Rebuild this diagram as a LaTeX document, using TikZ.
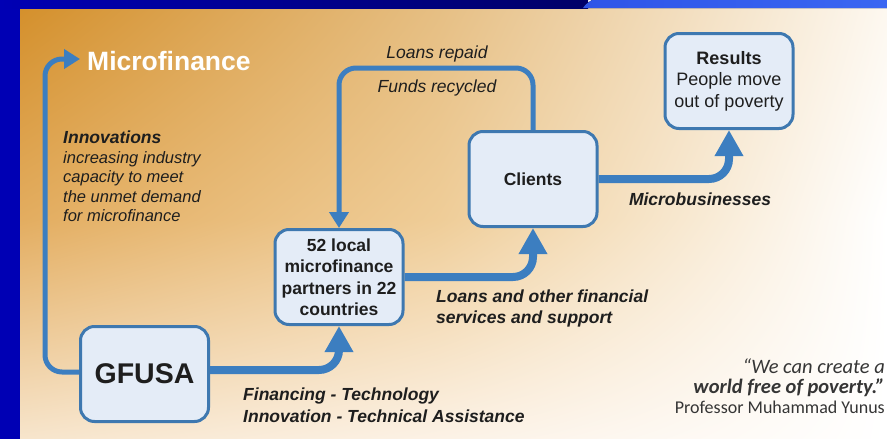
\documentclass[tikz,border=0pt]{standalone}
\usepackage{fontspec}
\setmainfont{Liberation Sans}
\newfontfamily\quotefont{Carlito}
\usetikzlibrary{arrows.meta,shadings}

\definecolor{navyL}{HTML}{0000B4}
\definecolor{navyD}{HTML}{000068}
\definecolor{brightblue}{HTML}{2F55E8}
\definecolor{brightblueR}{HTML}{3A66F2}
% background tones on a 3x3 grid
\definecolor{bgA}{HTML}{D4902C}
\definecolor{bgB}{HTML}{E6BF84}
\definecolor{bgC}{HTML}{FDF8F0}
\definecolor{bgD}{HTML}{E3AD60}
\definecolor{bgE}{HTML}{EFCD98}
\definecolor{bgF}{HTML}{FFFFFF}
\definecolor{bgG}{HTML}{F7E5CC}
\definecolor{bgH}{HTML}{FCF2E6}
\definecolor{bgI}{HTML}{FFFFFF}
\definecolor{boxfill}{HTML}{E4ECF7}
\definecolor{boxline}{HTML}{3E78B0}
\definecolor{flow}{HTML}{3C7EC0}
\definecolor{ink}{HTML}{1E1E1E}

\begin{document}
\begin{tikzpicture}[x=1pt,y=-1pt,
  stepbox/.style={draw=boxline, line width=3pt, fill=boxfill,
    rounded corners=14pt, minimum width=128pt, minimum height=95pt,
    align=center, text=ink, inner sep=2pt,
    font=\bfseries\fontsize{17.5}{21.5}\selectfont},
  bigflow/.style={draw=flow, line width=8pt, rounded corners=20pt,
    -{Triangle[width=27pt,length=26pt]}},
  smallflow/.style={draw=flow, line width=5pt, rounded corners=17pt,
    -{Triangle[width=19pt,length=16pt]}},
  label/.style={inner sep=0pt, text=ink},
  boldlabel/.style={label, font=\bfseries\itshape\fontsize{17.5}{21}\selectfont},
  patch/.style={shading=bilinear interpolation}
]
\useasboundingbox (0,0) rectangle (887,439);

% slide background: four bilinear patches
\fill[patch, upper left=bgA, upper right=bgB, lower left=bgD, lower right=bgE]
  (20,8) rectangle (440.5,220.5);
\fill[patch, upper left=bgB, upper right=bgC, lower left=bgE, lower right=bgF]
  (440,8) rectangle (887,220.5);
\fill[patch, upper left=bgD, upper right=bgE, lower left=bgG, lower right=bgH]
  (20,220) rectangle (440.5,439);
\fill[patch, upper left=bgE, upper right=bgF, lower left=bgH, lower right=bgI]
  (440,220) rectangle (887,439);

% frame
\fill[navyL] (0,0) rectangle (20,439);
\fill[left color=navyL, right color=navyD] (0,0) rectangle (588,8);
\fill[left color=brightblue, right color=brightblueR]
  (583,8) .. controls (586,4) .. (592,0) -- (887,0) -- (887,8) -- cycle;

% boxes
\node[stepbox, font=\bfseries\fontsize{28.5}{32}\selectfont] (gfusa) at (144.5,374) {GFUSA};
\node[stepbox] (partners) at (339,277) {52 local\\microfinance\\partners in 22\\countries};
\node[stepbox] (clients) at (533,179) {Clients};
\node[stepbox, font=\fontsize{18}{21.5}\selectfont] (results) at (729,81)
  {\textbf{Results}\\People move\\out of poverty};

% titles and labels
\node[inner sep=0pt, anchor=west, text=white,
      font=\bfseries\fontsize{26.5}{30}\selectfont] (mf) at (87,61) {Microfinance};
\node[label, anchor=north west, align=left,
      font=\itshape\fontsize{16.5}{19.5}\selectfont] (innov) at (63,131)
  {{\bfseries\fontsize{17.5}{19.5}\selectfont Innovations}\\increasing industry\\capacity to meet\\the unmet demand\\for microfinance};
\node[label, anchor=base, font=\itshape\fontsize{17.5}{21}\selectfont] (repaid) at (437,58) {Loans repaid};
\node[label, anchor=base, font=\itshape\fontsize{17.5}{21}\selectfont] (recycled) at (437,92) {Funds recycled};
\node[boldlabel, anchor=base] (micro) at (700,205) {Microbusinesses};
\node[boldlabel, anchor=north west, align=left] (loans) at (436,289.5)
  {Loans and other financial\\services and support};
\node[boldlabel, anchor=north west, align=left,
      font=\bfseries\itshape\fontsize{17.5}{22}\selectfont] (financing) at (243,387.5)
  {Financing - Technology\\Innovation - Technical Assistance};

% quotation
\node[label, anchor=base east, text=ink!90, font=\quotefont\itshape\fontsize{20.5}{22}\selectfont]
  (q1) at (885,373) {“We can create a};
\node[label, anchor=base east, text=ink!90, font=\quotefont\bfseries\itshape\fontsize{20.5}{22}\selectfont]
  (q2) at (885,393) {world free of poverty.”};
\node[label, anchor=base east, text=ink!90, font=\quotefont\fontsize{18}{20}\selectfont]
  (q3) at (885,413) {Professor Muhammad Yunus};

% flows
\coordinate (looptop) at (437,68);
\coordinate (mfcorner) at (45,59);
\coordinate (mftip) at (80,59);

\draw[smallflow] ([yshift=2pt]gfusa.west) -| (mfcorner) -- (mftip);
\draw[bigflow] ([yshift=4pt]gfusa.east) -| (partners.south);
\draw[bigflow] (partners.east) -| (clients.south);
\draw[bigflow] (clients.east) -| (results.south);
\draw[smallflow] (clients.north) |- (looptop) -| (partners.north);
\end{tikzpicture}
\end{document}
